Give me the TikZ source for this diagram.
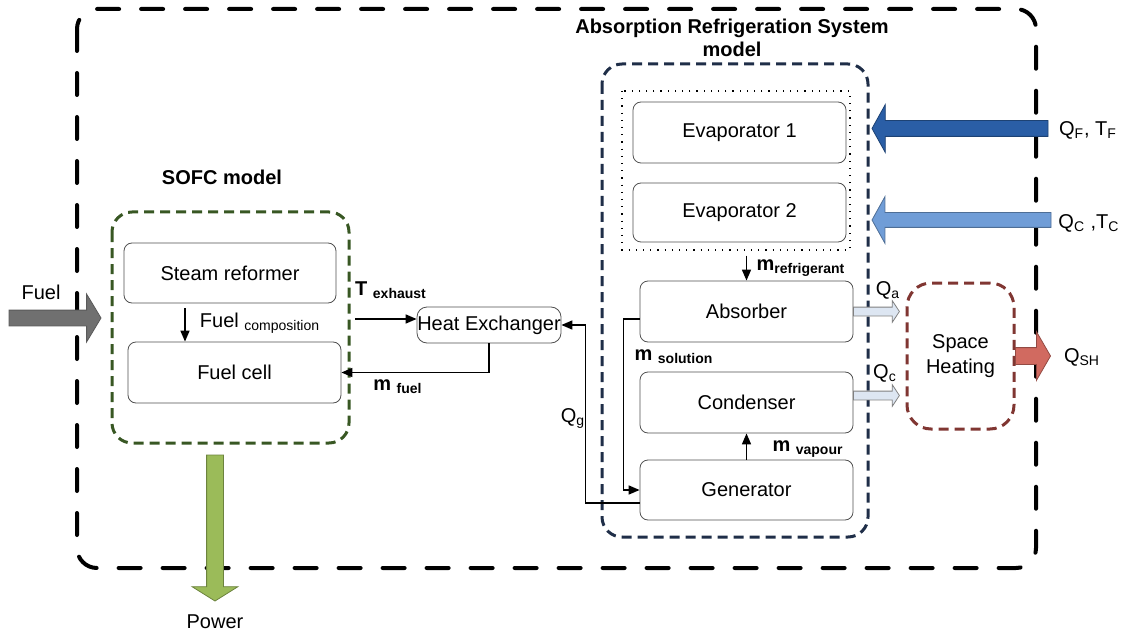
\documentclass[tikz,border=0pt]{standalone}
\usepackage{fontspec}
\setmainfont{Liberation Sans}
\usetikzlibrary{shapes.arrows,arrows.meta,positioning}

\definecolor{boxgray}{RGB}{80,80,80}
\definecolor{sofcgreen}{RGB}{56,87,35}
\definecolor{arsnavy}{RGB}{31,46,72}
\definecolor{heatred}{RGB}{128,54,50}
\definecolor{fuelgray}{RGB}{112,112,112}
\definecolor{powergreen}{RGB}{155,187,89}
\definecolor{coldblue}{RGB}{42,94,166}
\definecolor{coolblue}{RGB}{112,157,215}
\definecolor{paleblue}{RGB}{221,230,242}
\definecolor{shred}{RGB}{209,106,96}

\begin{document}
\begin{tikzpicture}[x=0.5pt,y=-0.5pt,
    font=\fontsize{10}{12}\selectfont,
    block/.style={draw=boxgray,rounded corners=4pt,minimum width=106.5pt,
      minimum height=30.5pt,inner sep=0pt},
    flow/.style={-{Triangle[length=5.5pt,width=4.5pt]},line width=0.8pt},
    bigarrow/.style={single arrow,draw,inner xsep=0pt,inner ysep=3.75pt,outer sep=0pt,
      single arrow head extend=8pt,single arrow tip angle=118},
    heatarrow/.style={single arrow,draw=gray,fill=paleblue,inner xsep=0pt,inner ysep=2pt,
      outer sep=0pt,minimum height=23pt,single arrow head extend=3.25pt,
      single arrow tip angle=113},
    frame/.style={line width=1.5pt,dash pattern=on 5pt off 3pt,rounded corners=10pt},
    label/.style={inner sep=0pt}]
  \useasboundingbox (0,0) rectangle (1123,636);

  % frames
  \draw[line width=2pt,line cap=round,dash pattern=on 11pt off 11pt,rounded corners=10pt]
    (77,9) rectangle (1036,568);
  \draw[frame,draw=sofcgreen] (112,212) rectangle (349,443);
  \draw[frame,draw=arsnavy] (602,64) rectangle (868,537);
  \draw[line width=0.8pt,dash pattern=on 0.6pt off 3pt] (622,91) rectangle (850,250);

  \node[label,font=\bfseries\fontsize{10}{11.5}\selectfont,align=center] (ars_title) at (732,38)
    {Absorption Refrigeration System\\model};
  \node[label,font=\bfseries] (sofc_title) at (222,177) {SOFC model};

  % SOFC
  \node[block,minimum width=106pt,minimum height=30pt] (steam_reformer) at (230,273) {Steam reformer};
  \node[block] (fuel_cell) at (234.5,372.5) {Fuel cell};
  \node[block,minimum width=72pt,minimum height=18pt,rounded corners=5pt] (heat_exchanger) at (489,325) {Heat Exchanger};

  % absorption refrigeration system
  \node[block] (evap_1) at (739.5,132.5) {Evaporator 1};
  \node[block,minimum height=29.5pt] (evap_2) at (739.5,212.5) {Evaporator 2};
  \node[block] (absorber) at (746.5,311.5) {Absorber};
  \node[block] (condenser) at (746.5,402.5) {Condenser};
  \node[block,minimum height=30pt] (generator) at (746.5,490) {Generator};
  \node[draw=heatred,line width=1.5pt,dash pattern=on 5pt off 3pt,rounded corners=12pt,
    minimum width=53.5pt,minimum height=73pt,align=center,
    font=\fontsize{10}{12.5}\selectfont] (space_heating) at (960.5,356) {Space\\Heating};

  % connectors
  \coordinate (sofc_out) at (355,319);
  \draw[flow] (sofc_out) -- (sofc_out -| heat_exchanger.west);
  \draw[flow] (heat_exchanger.south) |- (fuel_cell.east);
  \draw[flow,shorten <=2.5pt] ([xshift=-22.5pt]steam_reformer.south)
    -- ([xshift=-22.5pt]steam_reformer.south |- fuel_cell.north);
  \draw[flow] ([yshift=-6.5pt]generator.west) -- ++(-54,0) |- (heat_exchanger.east);
  \draw[flow] ([yshift=-3.75pt]absorber.west) -- ++(-16,0) |- (generator.west);
  \draw[flow] ([yshift=12.5pt]absorber.north) -- (absorber.north);
  \draw[flow] (generator.north) -- (condenser.south);

  % block arrows
  \node[bigarrow,fill=fuelgray,draw=fuelgray!80!black,minimum height=46pt,
    anchor=tip] (fuel_in) at (101,318) {};
  \node[bigarrow,fill=powergreen,draw=powergreen!70!black,minimum height=73pt,inner ysep=4pt,
    single arrow head extend=7.25pt,single arrow tip angle=116,rotate=-90,anchor=tail] (power_out) at (215,455) {};
  \node[bigarrow,fill=coldblue,draw=coldblue!70!black,minimum height=88pt,
    single arrow tip angle=122,rotate=180,anchor=tip] (q_f_in) at (872,128.5) {};
  \node[bigarrow,fill=coolblue,draw=coolblue!70!black,minimum height=89.5pt,inner ysep=3.5pt,
    single arrow tip angle=122,rotate=180,anchor=tip] (q_c_in) at (872,220) {};
  \node[heatarrow,anchor=tail] (q_a_out) at (absorber.east) {};
  \node[heatarrow,anchor=tail] (q_cond_out) at ([yshift=3.5pt]condenser.east) {};
  \node[bigarrow,fill=shred,draw=shred!70!black,minimum height=17.5pt,inner ysep=4pt,
    single arrow tip angle=120,anchor=tail] (q_sh_out) at (space_heating.east) {};

  % labels
  \node[label] (fuel_lbl) at (41,292) {Fuel};
  \node[label] (power_lbl) at (215,622) {Power};
  \node[label] (q_f_lbl) at (1088,130) {Q\textsubscript{F}, T\textsubscript{F}};
  \node[label] (q_c_lbl) at (1089,223) {Q\textsubscript{C} ,T\textsubscript{C}};
  \node[label] (q_a_lbl) at (888,290) {Q\textsubscript{a}};
  \node[label] (q_cond_lbl) at (885,373) {Q\textsubscript{c}};
  \node[label] (q_sh_lbl) at (1082,357) {Q\textsubscript{SH}};
  \node[label] (q_g_lbl) at (573,418) {Q\textsubscript{g}};
  \node[label,font=\bfseries] (t_exh_lbl) at (391,290) {T \textsubscript{exhaust}};
  \node[label,font=\bfseries] (m_fuel_lbl) at (398,387) {m \textsubscript{fuel}};
  \node[label] (fuel_comp_lbl) at (260,323) {Fuel \textsubscript{composition}};
  \node[label,font=\bfseries] (m_ref_lbl) at (801,268) {m\textsubscript{refrigerant}};
  \node[label,font=\bfseries] (m_sol_lbl) at (674,357) {m \textsubscript{solution}};
  \node[label,font=\bfseries] (m_vap_lbl) at (808,449) {m \textsubscript{vapour}};
\end{tikzpicture}
\end{document}
